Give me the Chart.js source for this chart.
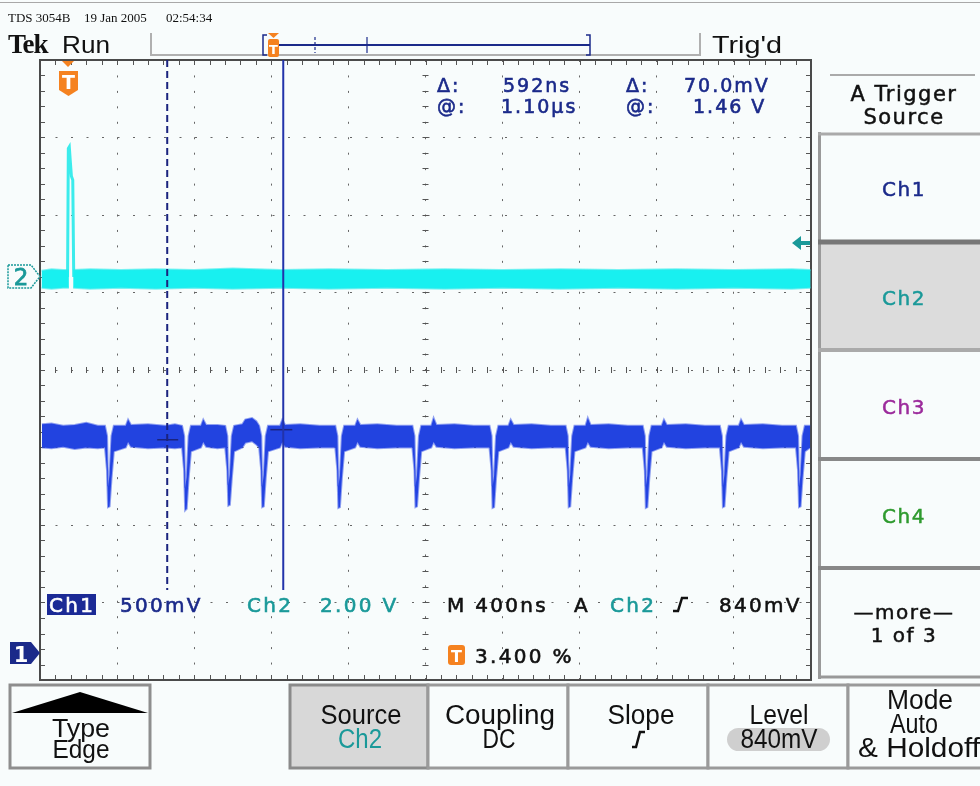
<!DOCTYPE html>
<html>
<head>
<meta charset="utf-8">
<script src="https://cdn.jsdelivr.net/npm/chart.js@4.4.0/dist/chart.umd.min.js"></script>
<style>
  body { margin:0; width:980px; height:786px; overflow:hidden; position:relative; background:#f8fcfc; }
  #scope { position:absolute; left:38px; top:58px; width:775px; height:624px; }
  #overlay { position:absolute; left:0; top:0; pointer-events:none; }
  .hd { font-family:"Liberation Serif",serif; font-size:13px; fill:#111; }
  .tk { font-family:"Liberation Sans Narrow","Liberation Sans",sans-serif; font-size:24px; fill:#111; }
  .rd { font-family:"DejaVu Sans",sans-serif; font-size:19px; letter-spacing:2px; stroke-width:0.6; }
  .lb { font-family:"DejaVu Sans",sans-serif; font-size:20px; letter-spacing:2.3px; stroke-width:0.6; }
  .mn { font-family:"DejaVu Sans",sans-serif; font-size:20px; letter-spacing:1.5px; text-anchor:middle; stroke-width:0.5; }
  .bt { font-family:"Liberation Sans Narrow","Liberation Sans",sans-serif; font-size:27px; text-anchor:middle; }
  .navy { fill:#1b2a8a; stroke:#1b2a8a; }
  .teal { fill:#1a9999; stroke:#1a9999; }
  .blk { fill:#111; stroke:#111; }
  .wht { fill:#fff; stroke:#fff; }
  .bt.blk, .bt.teal { stroke:none; }
</style>
</head>
<body>
<div id="scope"><canvas id="scopeChart"></canvas></div>

<svg id="overlay" width="980" height="786">
  <!-- header -->
  <line x1="0" y1="2.5" x2="980" y2="2.5" stroke="#a8a8a8" stroke-width="1"/>
  <text class="hd" x="8" y="22">TDS 3054B</text>
  <text class="hd" x="84" y="22">19 Jan 2005</text>
  <text class="hd" x="166" y="22">02:54:34</text>
  <text x="8" y="53" style="font-family:'Liberation Serif',serif;font-weight:bold;font-size:27px;letter-spacing:-1px" fill="#111">Tek</text>
  <text class="tk" x="62" y="53" textLength="48" lengthAdjust="spacingAndGlyphs">Run</text>
  <text class="tk" x="712" y="53" textLength="70" lengthAdjust="spacingAndGlyphs">Trig'd</text>
  <polyline points="151,33 151,55 700,55 700,33" fill="none" stroke="#b0b0b0" stroke-width="2"/>
  <!-- record view -->
  <path d="M267,35 h-4 v20 h4 M586,35 h4 v20 h-4" fill="none" stroke="#1b2a8a" stroke-width="1.5"/>
  <line x1="268" y1="45" x2="590" y2="45" stroke="#1b2a8a" stroke-width="2"/>
  <line x1="315" y1="37" x2="315" y2="53" stroke="#1b2a8a" stroke-width="1.2" stroke-dasharray="3,2"/>
  <line x1="367" y1="37" x2="367" y2="53" stroke="#1b2a8a" stroke-width="1.2"/>
  <path d="M268,33 h11 l-5.5,5 z" fill="#f58220"/>
  <rect x="268" y="39" width="11" height="18" rx="2" fill="#f58220"/>
  <text x="273.5" y="54" text-anchor="middle" style="font-family:'DejaVu Sans';font-weight:bold;font-size:13px" fill="#fff">T</text>

  <!-- trigger position marker -->
  <path d="M62,61 h12 l-6,6 z" fill="#f58220"/>
  <path d="M59,71 h19 v19 l-9.5,6 l-9.5,-6 z" fill="#f58220"/>
  <text x="68.5" y="89" text-anchor="middle" style="font-family:'DejaVu Sans';font-weight:bold;font-size:19px" fill="#fff">T</text>

  <!-- cursor readouts -->
  <text class="rd navy" x="437" y="92">Δ:</text>
  <text class="rd navy" x="503" y="92">592ns</text>
  <text class="rd navy" x="626" y="92">Δ:</text>
  <text class="rd navy" x="684" y="92">70.0mV</text>
  <text class="rd navy" x="437" y="113">@:</text>
  <text class="rd navy" x="501" y="113">1.10µs</text>
  <text class="rd navy" x="626" y="113">@:</text>
  <text class="rd navy" x="693" y="113">1.46 V</text>

  <!-- channel ground markers -->
  <path d="M8,265 h23 l9,11.5 l-9,11.5 h-23 z" fill="#f8fcfc" stroke="#1a9999" stroke-width="1.5" stroke-dasharray="2,1"/>
  <text x="21" y="285" text-anchor="middle" style="font-family:'DejaVu Sans';font-size:23px;stroke-width:0.8" class="teal">2</text>
  <path d="M10,642 h21 l9,11 l-9,11 h-21 z" fill="#1b2a8a"/>
  <text x="21" y="662" text-anchor="middle" style="font-family:'DejaVu Sans';font-weight:bold;font-size:21px" fill="#fff">1</text>
  <!-- trigger level arrow -->
  <path d="M792,243 l9,-7 v5 h9 v4 h-9 v5 z" fill="#1a9999"/>

  <!-- bottom readouts -->
  <rect x="47" y="594" width="49" height="21" fill="#1b2a96"/>
  <text class="lb wht" x="49" y="612">Ch1</text>
  <text class="lb navy" x="120" y="612">500mV</text>
  <text class="lb teal" x="247" y="612">Ch2</text>
  <text class="lb teal" x="320" y="612">2.00 V</text>
  <text class="lb blk" x="447" y="612">M 400ns</text>
  <text class="lb blk" x="574" y="612">A</text>
  <text class="lb teal" x="610" y="612">Ch2</text>
  <path d="M673,611 h5 l4,-13 h6" fill="none" stroke="#111" stroke-width="2.5"/>
  <text class="lb blk" x="719" y="612">840mV</text>
  <rect x="448" y="645" width="17" height="20" rx="3" fill="#f58220"/>
  <text x="456.5" y="662" text-anchor="middle" style="font-family:'DejaVu Sans';font-weight:bold;font-size:16px" fill="#fff">T</text>
  <text class="lb blk" x="475" y="663">3.400 %</text>

  <!-- side menu -->
  <line x1="830" y1="75" x2="975" y2="75" stroke="#aaa" stroke-width="2"/>
  <text class="mn blk" x="904" y="101" style="font-size:21px">A Trigger</text>
  <text class="mn blk" x="904" y="124" style="font-size:21px">Source</text>
  <rect x="820" y="244" width="160" height="105" fill="#dcdcdc"/>
  <line x1="819.5" y1="132" x2="819.5" y2="679" stroke="#9a9a9a" stroke-width="3"/>
  <line x1="818" y1="134" x2="980" y2="134" stroke="#aaa" stroke-width="3"/>
  <line x1="818" y1="242" x2="980" y2="242" stroke="#777" stroke-width="5"/>
  <line x1="818" y1="350" x2="980" y2="350" stroke="#aaa" stroke-width="4"/>
  <line x1="818" y1="459" x2="980" y2="459" stroke="#888" stroke-width="4"/>
  <line x1="818" y1="568" x2="980" y2="568" stroke="#888" stroke-width="4"/>
  <line x1="818" y1="677" x2="980" y2="677" stroke="#999" stroke-width="3"/>
  <text class="mn navy" x="904" y="196">Ch1</text>
  <text class="mn teal" x="904" y="305">Ch2</text>
  <text class="mn" x="904" y="414" style="fill:#9b2a9b;stroke:#9b2a9b">Ch3</text>
  <text class="mn" x="904" y="523" style="fill:#2e9a2e;stroke:#2e9a2e">Ch4</text>
  <text class="mn blk" x="904" y="619">—more—</text>
  <text class="mn blk" x="904" y="642">1 of 3</text>

  <!-- bottom menu -->
  <rect x="10" y="685" width="140" height="83" fill="#f8fcfc" stroke="#8e8e8e" stroke-width="3"/>
  <path d="M12,713 L80,692 L148,713 Z" fill="#000"/>
  <text class="bt blk" x="81" y="737" style="font-size:25px" textLength="58" lengthAdjust="spacingAndGlyphs">Type</text>
  <text class="bt blk" x="81" y="758" style="font-size:25px" textLength="57" lengthAdjust="spacingAndGlyphs">Edge</text>
  <rect x="290" y="685" width="138" height="83" fill="#d8d8d8" stroke="#8a8a8a" stroke-width="3"/>
  <rect x="428" y="685" width="140" height="83" fill="#f8fcfc" stroke="#9a9a9a" stroke-width="3"/>
  <rect x="568" y="685" width="140" height="83" fill="#f8fcfc" stroke="#9a9a9a" stroke-width="3"/>
  <rect x="708" y="685" width="140" height="83" fill="#f8fcfc" stroke="#9a9a9a" stroke-width="3"/>
  <rect x="848" y="685" width="140" height="83" fill="#f8fcfc" stroke="#9a9a9a" stroke-width="3"/>
  <text class="bt blk" x="361" y="724" textLength="81" lengthAdjust="spacingAndGlyphs">Source</text>
  <text class="bt teal" x="360" y="748" textLength="44" lengthAdjust="spacingAndGlyphs">Ch2</text>
  <text class="bt blk" x="500" y="724" textLength="110" lengthAdjust="spacingAndGlyphs">Coupling</text>
  <text class="bt blk" x="499" y="748" textLength="33" lengthAdjust="spacingAndGlyphs">DC</text>
  <text class="bt blk" x="641" y="724" textLength="67" lengthAdjust="spacingAndGlyphs">Slope</text>
  <path d="M632,747 h4 l4,-15 h5" fill="none" stroke="#111" stroke-width="2.5"/>
  <text class="bt blk" x="779" y="724" textLength="59" lengthAdjust="spacingAndGlyphs">Level</text>
  <rect x="727" y="728" width="103" height="23" rx="11.5" fill="#cfcfcf"/>
  <text class="bt blk" x="779" y="748" textLength="77" lengthAdjust="spacingAndGlyphs">840mV</text>
  <text class="bt blk" x="920" y="709" textLength="66" lengthAdjust="spacingAndGlyphs">Mode</text>
  <text class="bt blk" x="914" y="733" textLength="48" lengthAdjust="spacingAndGlyphs">Auto</text>
  <text class="bt blk" x="919" y="757" textLength="122" lengthAdjust="spacingAndGlyphs">&amp; Holdoff</text>
</svg>

<script>
// Horizontal: 10 divisions of 400 ns. Vertical: 8 divisions, values in divisions.
const timeRange = [0, 4000];
const timeStep = 400;
const levelRange = [-4, 4];
const levelStep = 1;

// Ch2 (cyan): noise band edges, broken where the trigger pulse sits
const ch2Time = [8, 60, 120, 150, null, 172, 260, 420, 600, 800, 1000, 1250, 1500, 1800, 2100, 2400, 2700, 3000, 3300, 3600, 3900, 3998];
const ch2High = [1.28, 1.30, 1.29, 1.29, null, 1.29, 1.30, 1.29, 1.30, 1.29, 1.31, 1.29, 1.30, 1.29, 1.30, 1.29, 1.30, 1.29, 1.30, 1.29, 1.30, 1.29];
const ch2Low  = [1.06, 1.05, 1.06, 1.06, null, 1.06, 1.05, 1.06, 1.05, 1.06, 1.05, 1.06, 1.05, 1.06, 1.05, 1.06, 1.05, 1.06, 1.05, 1.06, 1.05, 1.06];
// Ch2 trigger pulse outline
const pulseTime  = [143, 147, 152, 157, 163, 170, 175];
const pulseLevel = [1.2, 2.86, 2.88, 2.7, 2.5, 2.45, 1.2];

// Ch1 (blue): band edges with the negative glitches
const ch1Time = [10, 60, 120, 180, 240, 300,
  337, 348, 353, 361, 371, 383, 445, 457, 472, 560, 650, 700,
  737, 748, 753, 761, 771, 783, 835, 847, 862, 920,
  961, 972, 977, 985, 995, 1007, 1050, 1065, 1100, 1122,
  1137, 1148, 1153, 1161, 1171, 1183, 1245, 1257, 1272, 1350, 1450,
  1532, 1543, 1548, 1556, 1566, 1578, 1635, 1647, 1662, 1750, 1850,
  1932, 1943, 1948, 1956, 1966, 1978, 2030, 2042, 2057, 2150, 2250,
  2332, 2343, 2348, 2356, 2366, 2378, 2430, 2442, 2457, 2550, 2650,
  2727, 2738, 2743, 2751, 2761, 2773, 2830, 2842, 2857, 2950, 3050,
  3127, 3138, 3143, 3151, 3161, 3173, 3225, 3237, 3252, 3350, 3450,
  3527, 3538, 3543, 3551, 3561, 3573, 3625, 3637, 3652, 3750, 3850,
  3922, 3933, 3938, 3946, 3956, 3968, 3996];
const ch1High = [-0.70, -0.69, -0.72, -0.71, -0.68, -0.72,
  -0.72, -0.85, -1.50, -1.35, -0.85, -0.72, -0.72, -0.64, -0.71, -0.70, -0.72, -0.70,
  -0.72, -0.85, -1.52, -1.38, -0.85, -0.72, -0.72, -0.64, -0.71, -0.71,
  -0.72, -0.85, -1.48, -1.35, -0.85, -0.72, -0.70, -0.64, -0.62, -0.66,
  -0.72, -0.85, -1.50, -1.35, -0.85, -0.72, -0.72, -0.64, -0.71, -0.70, -0.72,
  -0.72, -0.85, -1.50, -1.36, -0.85, -0.72, -0.72, -0.64, -0.71, -0.70, -0.72,
  -0.72, -0.85, -1.50, -1.35, -0.85, -0.72, -0.72, -0.62, -0.71, -0.70, -0.72,
  -0.72, -0.85, -1.50, -1.36, -0.85, -0.72, -0.72, -0.64, -0.71, -0.70, -0.72,
  -0.72, -0.85, -1.50, -1.35, -0.85, -0.72, -0.72, -0.62, -0.71, -0.70, -0.72,
  -0.72, -0.85, -1.50, -1.36, -0.85, -0.72, -0.72, -0.64, -0.71, -0.70, -0.72,
  -0.72, -0.85, -1.50, -1.35, -0.85, -0.72, -0.72, -0.64, -0.71, -0.70, -0.72,
  -0.72, -0.85, -1.50, -1.35, -0.85, -0.72, -0.72];
const ch1Low = [-1.00, -1.01, -0.99, -1.02, -1.00, -1.01,
  -1.00, -1.30, -1.77, -1.76, -1.40, -1.05, -1.00, -0.93, -0.99, -1.01, -1.00, -1.01,
  -1.00, -1.30, -1.81, -1.79, -1.40, -1.05, -1.00, -0.93, -0.99, -1.01,
  -1.00, -1.30, -1.75, -1.74, -1.40, -1.05, -1.00, -0.94, -0.92, -0.96,
  -1.00, -1.30, -1.77, -1.76, -1.40, -1.05, -1.00, -0.93, -0.99, -1.01, -1.00,
  -1.00, -1.30, -1.78, -1.77, -1.40, -1.05, -1.00, -0.93, -0.99, -1.01, -1.00,
  -1.00, -1.30, -1.77, -1.76, -1.40, -1.05, -1.00, -0.93, -0.99, -1.01, -1.00,
  -1.00, -1.30, -1.78, -1.77, -1.40, -1.05, -1.00, -0.93, -0.99, -1.01, -1.00,
  -1.00, -1.30, -1.77, -1.76, -1.40, -1.05, -1.00, -0.93, -0.99, -1.01, -1.00,
  -1.00, -1.30, -1.78, -1.77, -1.40, -1.05, -1.00, -0.93, -0.99, -1.01, -1.00,
  -1.00, -1.30, -1.77, -1.76, -1.40, -1.05, -1.00, -0.93, -0.99, -1.01, -1.00,
  -1.00, -1.30, -1.77, -1.76, -1.40, -1.05, -1.00];

// cursors (time, ns) and their level marks
const cursorTimes = [660, 1262];
const cursorSpan = [4, -2.84];
const cursorMarkTimes = [[608, 717], [1195, 1309]];
const cursorMarkLevels = [-0.9, -0.77];

const pts = (xs, ys) => xs.map((x, i) => ({ x: x, y: ys[i] }));

const band = (xs, ys, edge, fillColor, order) => ({
  data: pts(xs, ys), borderColor: edge, borderWidth: 2, pointRadius: 0,
  fill: fillColor ? '-1' : false, backgroundColor: fillColor || 'transparent',
  spanGaps: false, order: order
});

const datasets = [
  band(ch2Time, ch2High, 'rgba(40,235,235,0.6)', null, 3),
  band(ch2Time, ch2Low, 'rgba(40,235,235,0.6)', '#18f0f0', 3),
  { data: pts(pulseTime, pulseLevel), borderColor: '#3cecec', borderWidth: 3, pointRadius: 0, fill: false, order: 3 },
  band(ch1Time, ch1High, 'rgba(40,70,230,0.5)', null, 2),
  band(ch1Time, ch1Low, 'rgba(40,70,230,0.5)', '#2243e0', 2),
  { data: pts([cursorTimes[0], cursorTimes[0]], cursorSpan), borderColor: '#1a237e', borderWidth: 2,
    borderDash: [7, 4], pointRadius: 0, fill: false, order: 0 },
  { data: pts([cursorTimes[1], cursorTimes[1]], cursorSpan), borderColor: '#2233aa', borderWidth: 2,
    pointRadius: 0, fill: false, order: 0 },
  { data: pts(cursorMarkTimes[0], [cursorMarkLevels[0], cursorMarkLevels[0]]), borderColor: '#1a237e',
    borderWidth: 1.5, pointRadius: 0, fill: false, order: 0 },
  { data: pts(cursorMarkTimes[1], [cursorMarkLevels[1], cursorMarkLevels[1]]), borderColor: '#1a237e',
    borderWidth: 1.5, pointRadius: 0, fill: false, order: 0 }
];

// minor ticks on the frame and on the centre cross, plus the frame itself
const graticule = {
  id: 'graticule',
  beforeDatasetsDraw(chart) {
    const { ctx, chartArea: a, scales: { x, y } } = chart;
    const cx = x.getPixelForValue((timeRange[0] + timeRange[1]) / 2);
    const cy = y.getPixelForValue(0);
    ctx.save();
    ctx.strokeStyle = '#555';
    ctx.lineWidth = 1;
    ctx.beginPath();
    for (let t = timeRange[0]; t <= timeRange[1]; t += timeStep / 5) {
      const px = Math.round(x.getPixelForValue(t)) + 0.5;
      ctx.moveTo(px, a.top); ctx.lineTo(px, a.top + 5);
      ctx.moveTo(px, a.bottom); ctx.lineTo(px, a.bottom - 5);
      ctx.moveTo(px, cy - 3); ctx.lineTo(px, cy + 3);
    }
    for (let v = levelRange[0]; v <= levelRange[1] + 0.001; v += levelStep / 5) {
      const py = Math.round(y.getPixelForValue(v)) + 0.5;
      ctx.moveTo(a.left, py); ctx.lineTo(a.left + 5, py);
      ctx.moveTo(a.right, py); ctx.lineTo(a.right - 5, py);
      ctx.moveTo(cx - 3, py); ctx.lineTo(cx + 3, py);
    }
    ctx.stroke();
    ctx.strokeStyle = '#4a4a4a';
    ctx.lineWidth = 2;
    ctx.strokeRect(a.left, a.top, a.width, a.height);
    ctx.restore();
  }
};

new Chart(document.getElementById('scopeChart'), {
  type: 'line',
  data: { datasets: datasets },
  options: {
    responsive: true,
    maintainAspectRatio: false,
    animation: false,
    layout: { padding: 2 },
    plugins: { legend: { display: false }, tooltip: { enabled: false } },
    scales: {
      x: {
        type: 'linear', min: timeRange[0], max: timeRange[1],
        ticks: { display: false, stepSize: timeStep },
        grid: { color: '#666', lineWidth: 1, drawTicks: false },
        border: { display: false, dash: [2, 13.45] }
      },
      y: {
        type: 'linear', min: levelRange[0], max: levelRange[1],
        ticks: { display: false, stepSize: levelStep },
        grid: { color: '#666', lineWidth: 1, drawTicks: false },
        border: { display: false, dash: [2, 13.5] }
      }
    }
  },
  plugins: [graticule]
});
</script>
</body>
</html>
